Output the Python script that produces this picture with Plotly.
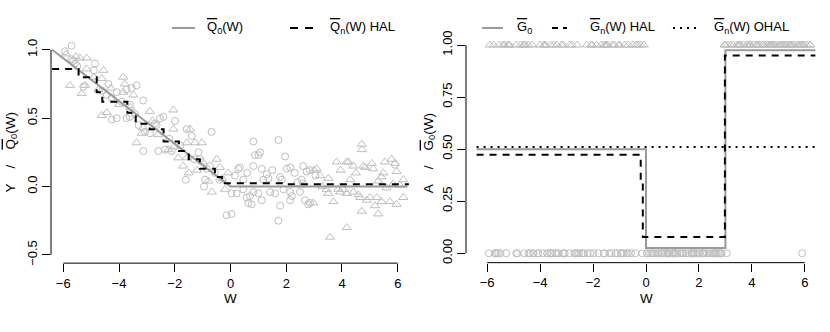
import plotly.graph_objects as go

# ---------------- data ----------------
# observations with A = 0 (circles)
w_a0 = [-5.94, -5.70, -5.70, -5.64, -5.58, -5.5, -4.86, -5.28, -4.38, -4.44, -4.26, -4.08,
        -3.73, -3.55, -3.37, -3.13, -4.26, -4.08, -3.61, -3.43, -3.61, -3.73, -2.41, -2.53,
        -1.99, -2.65, -2.71, -3.07, -2.89, -1.57, -0.68, -3.13, -2.59, -2.35, -2.11, -1.39,
        -1.15, -1.09, -0.85, -0.74, -0.91, -0.56, -0.14, -3.9, -1.8, -1.3, -0.4, -2.2, -3.3,
        -4.6, -4.9, -1.6, -0.95,
        0.16, 0.28, 0.34, 0.04, 0.22, 0.04, 0.82, 0.88, 1.06, 1.00, 1.72, 1.96, 0.82, 1.12,
        1.30, 1.36, 1.18, 1.78, 1.84, 2.02, 2.14, 0.46, 0.46, 0.82, 1.00, 1.12, 0.70, 0.58,
        0.64, 0.76, 1.42, 1.60, 1.78, 1.72, 2.14, 2.20, 2.49, 2.14, 2.61, 2.73, 2.85, 2.67,
        2.85, 2.79, 2.55, 2.61, 2.3, 1.5, 0.6, 2.4, 1.9, 3.05, 5.9]
y_a0 = [0.99, 1.03, 0.93, 0.92, 0.90, 0.88, 0.90, 0.73, 0.75, 0.67, 0.65, 0.69,
        0.71, 0.72, 0.74, 0.63, 0.49, 0.50, 0.60, 0.53, 0.51, 0.50, 0.51, 0.50,
        0.48, 0.45, 0.46, 0.40, 0.39, 0.42, 0.40, 0.26, 0.26, 0.27, 0.26, 0.37,
        0.25, 0.20, 0.13, 0.15, 0.05, 0.10, -0.21, 0.62, 0.30, 0.20, 0.05, 0.35, 0.45,
        0.70, 0.85, 0.05, 0.00,
        0.08, 0.13, 0.14, -0.05, -0.05, -0.20, 0.33, 0.23, 0.25, 0.23, 0.34, 0.22, 0.15, 0.13,
        0.09, 0.06, 0.05, 0.07, 0.05, 0.13, 0.14, 0.05, -0.02, -0.04, -0.05, -0.10, -0.07, -0.08,
        -0.12, -0.13, -0.04, -0.05, -0.14, -0.25, -0.04, -0.07, -0.04, -0.10, 0.15, 0.11, 0.12, -0.10,
        -0.12, -0.13, 0.05, 0.02, 0.10, 0.12, 0.10, 0.03, -0.02, 0.08, 0.16]

# observations with A = 1 (triangles)
w_a1 = [-5.40, -5.16, -5.16, -5.76, -5.34, -5.22, -4.56, -4.62, -4.74, -3.85, -3.79, -3.85,
        -3.49, -4.62, -4.44, -2.89, -2.05, -3.13, -3.19, -2.05, -1.45, -3.37, -2.23, -2.05,
        -1.57, -1.27, -1.03, -1.87, -1.57, -0.80, -0.38, -0.67, -0.20, -0.08, -5.9, -5.55,
        -4.3, -4.0, -2.6, -1.7, -1.2, -0.5, -2.8, -3.6, -4.9, -1.5, -1.0, -0.3,
        2.97, 3.0, 3.09, 3.21, 3.51, 3.81, 4.17, 4.41, 4.71, 4.71, 4.77, 5.07, 5.12, 5.54, 5.78,
        5.90, 5.96, 5.48, 5.42, 3.45, 3.51, 3.87, 3.93, 4.05, 3.69, 4.17, 4.41, 4.59, 4.65,
        4.89, 5.00, 5.25, 5.42, 5.72, 5.96, 5.18, 5.30, 4.71, 4.17, 3.57, 5.84, 5.60, 6.08,
        4.23, 4.83, 4.5, 4.3, 3.3, 6.2, 6.2, 3.95, 5.3]
y_a1 = [0.94, 0.94, 0.86, 0.74, 0.68, 0.74, 0.85, 0.79, 0.71, 0.80, 0.75, 0.69,
        0.67, 0.52, 0.54, 0.55, 0.56, 0.43, 0.39, 0.42, 0.42, 0.32, 0.27, 0.29,
        0.32, 0.32, 0.32, 0.21, 0.21, 0.04, 0.14, -0.04, -0.02, 0.10, 0.97, 0.95,
        0.72, 0.60, 0.38, 0.15, 0.12, 0.20, 0.48, 0.58, 0.80, 0.10, 0.18, 0.06,
        -0.12, 0.12, 0.13, 0.08, 0.06, 0.18, 0.18, 0.15, 0.31, 0.27, 0.15, 0.17, 0.13, 0.18, 0.20,
        0.17, 0.11, 0.10, 0.07, -0.02, -0.05, -0.02, -0.04, -0.02, -0.11, -0.05, -0.04, -0.06, -0.08,
        -0.10, -0.08, -0.08, -0.11, -0.11, -0.13, -0.14, -0.20, -0.18, -0.30, -0.37, 0.02, -0.01, 0.01,
        0.18, 0.14, 0.10, 0.05, 0.00, 0.05, -0.08, 0.12, 0.04]

# true regression Q0 (knots) and HAL estimate (step knots)
q0_w = [-6.4, 0.0, 6.35]
q0_y = [1.0, 0.0, 0.0]
qhal_w = [-6.4, -5.45, -4.8, -4.6, -3.7, -3.4, -2.9, -2.4, -1.85, -1.5, -1.1, -0.56, -0.3, 1.95, 6.4]
qhal_y = [0.86, 0.80, 0.69, 0.62, 0.54, 0.46, 0.42, 0.33, 0.26, 0.20, 0.13, 0.07, 0.024, 0.017, 0.017]

# propensity score G0, HAL and OHAL estimates (step knots)
g0_w = [-6.4, 0.0, 3.0, 6.4]
g0_y = [0.5, 0.025, 0.975, 0.975]
ghal_w = [-6.4, -0.2, -0.12, 2.98, 6.4]
ghal_y = [0.473, 0.33, 0.078, 0.95, 0.95]
gohal_w = [-6.4, 6.4]
gohal_y = [0.51, 0.51]

x_ticks = [-6, -4, -2, 0, 2, 4, 6]
yl_ticks = [-0.5, 0.0, 0.5, 1.0]
yr_ticks = [0.0, 0.25, 0.5, 0.75, 1.0]

# ---------------- layout geometry ----------------
W_PX, H_PX = 830, 332
FONT = "Liberation Sans, Arial, Helvetica, sans-serif"
PT_COL = "#BEBEBE"
LN_GRAY = "#9A9A9A"

L_X = (51, 410); L_Y = (36.5, 263.5)
R_X = (466, 826); R_Y = (31, 263)
L_XR = [-6.44, 6.44]; L_YR = [-0.56, 1.06]
R_XR = [-6.8, 6.8]; R_YR = [-0.045, 1.042]


def px(x):
    return x / W_PX


def py(y):
    return 1 - y / H_PX


def dom_x(p):
    return [px(p[0]), px(p[1])]


def dom_y(p):
    return [py(p[1]), py(p[0])]


def map_x(v, pxr, rng):
    return pxr[0] + (v - rng[0]) / (rng[1] - rng[0]) * (pxr[1] - pxr[0])


def map_y(v, pyr, rng):
    return pyr[1] - (v - rng[0]) / (rng[1] - rng[0]) * (pyr[1] - pyr[0])


fig = go.Figure()

# ---- left panel ----
fig.add_trace(go.Scatter(x=w_a0, y=y_a0, mode="markers", xaxis="x", yaxis="y",
                         marker=dict(symbol="circle-open", size=7, color=PT_COL, line=dict(width=1))))
fig.add_trace(go.Scatter(x=w_a1, y=y_a1, mode="markers", xaxis="x", yaxis="y",
                         marker=dict(symbol="triangle-up-open", size=8, color=PT_COL, line=dict(width=1))))
fig.add_trace(go.Scatter(x=q0_w, y=q0_y, mode="lines", xaxis="x", yaxis="y",
                         line=dict(color=LN_GRAY, width=2)))
fig.add_trace(go.Scatter(x=qhal_w, y=qhal_y, mode="lines", xaxis="x", yaxis="y",
                         line=dict(color="black", width=2, dash="7px,6px", shape="hv")))

# ---- right panel ----
fig.add_trace(go.Scatter(x=w_a0, y=[0] * len(w_a0), mode="markers", xaxis="x2", yaxis="y2",
                         marker=dict(symbol="circle-open", size=7, color=PT_COL, line=dict(width=1))))
fig.add_trace(go.Scatter(x=w_a1, y=[1] * len(w_a1), mode="markers", xaxis="x2", yaxis="y2",
                         marker=dict(symbol="triangle-up-open", size=8, color=PT_COL, line=dict(width=1))))
fig.add_trace(go.Scatter(x=gohal_w, y=gohal_y, mode="lines", xaxis="x2", yaxis="y2",
                         line=dict(color="black", width=2, dash="2px,5px")))
fig.add_trace(go.Scatter(x=g0_w, y=g0_y, mode="lines", xaxis="x2", yaxis="y2",
                         line=dict(color=LN_GRAY, width=2, shape="hv")))
fig.add_trace(go.Scatter(x=ghal_w, y=ghal_y, mode="lines", xaxis="x2", yaxis="y2",
                         line=dict(color="black", width=2, dash="7px,6px", shape="hv")))

axis_common = dict(showgrid=False, zeroline=False, showline=False, ticks="outside",
                   ticklen=8, tickwidth=1, tickcolor="black",
                   tickfont=dict(family=FONT, size=13, color="black"))

fig.update_layout(
    width=W_PX, height=H_PX,
    margin=dict(l=0, r=0, t=0, b=0),
    paper_bgcolor="white", plot_bgcolor="white",
    showlegend=False, hovermode=False,
    font=dict(family=FONT, size=13, color="black"),
    xaxis=dict(domain=dom_x(L_X), range=L_XR, tickvals=x_ticks, anchor="y", **axis_common),
    yaxis=dict(domain=dom_y(L_Y), range=L_YR, tickvals=yl_ticks, tickformat=".1f",
               tickangle=-90, anchor="x", **axis_common),
    xaxis2=dict(domain=dom_x(R_X), range=R_XR, tickvals=x_ticks, anchor="y2", **axis_common),
    yaxis2=dict(domain=dom_y(R_Y), range=R_YR, tickvals=yr_ticks, tickformat=".2f",
                tickangle=-90, anchor="x2", **axis_common),
)

shapes = []
# R-style axis lines spanning first..last tick
lx0 = map_x(x_ticks[0], L_X, L_XR); lx1 = map_x(x_ticks[-1], L_X, L_XR)
shapes.append(dict(type="line", xref="paper", yref="paper", x0=px(lx0), x1=px(lx1),
                   y0=py(L_Y[1]), y1=py(L_Y[1]), line=dict(color="black", width=1)))
ly0 = map_y(yl_ticks[0], L_Y, L_YR); ly1 = map_y(yl_ticks[-1], L_Y, L_YR)
shapes.append(dict(type="line", xref="paper", yref="paper", x0=px(L_X[0]), x1=px(L_X[0]),
                   y0=py(ly0), y1=py(ly1), line=dict(color="black", width=1)))
rx0 = map_x(x_ticks[0], R_X, R_XR); rx1 = map_x(x_ticks[-1], R_X, R_XR)
shapes.append(dict(type="line", xref="paper", yref="paper", x0=px(rx0), x1=px(rx1),
                   y0=py(R_Y[1]), y1=py(R_Y[1]), line=dict(color="black", width=1)))
ry0 = map_y(yr_ticks[0], R_Y, R_YR); ry1 = map_y(yr_ticks[-1], R_Y, R_YR)
shapes.append(dict(type="line", xref="paper", yref="paper", x0=px(R_X[0]), x1=px(R_X[0]),
                   y0=py(ry0), y1=py(ry1), line=dict(color="black", width=1)))

# legend samples
LEG_Y = 22.5


def leg_line(x0, x1, color, dash="solid"):
    shapes.append(dict(type="line", xref="paper", yref="paper", x0=px(x0), x1=px(x1),
                       y0=py(LEG_Y), y1=py(LEG_Y), line=dict(color=color, width=2, dash=dash)))


leg_line(172, 195, LN_GRAY)
leg_line(290, 313, "black", "8px,7px")
leg_line(482, 503, LN_GRAY)
leg_line(552, 567, "black", "6px,5px")
leg_line(673, 697, "black", "2px,5px")

fig.update_layout(shapes=shapes)

OV = '<span style="text-decoration:overline">{}</span>'
SP = "\u00a0" * 4
annotations = []


def txt(x, y, s, xanchor="left", angle=0, size=13):
    annotations.append(dict(xref="paper", yref="paper", x=px(x), y=py(y), text=s,
                            showarrow=False, xanchor=xanchor, yanchor="middle",
                            textangle=angle, font=dict(family=FONT, size=size, color="black")))


txt(205, LEG_Y, OV.format("Q") + "<sub>0</sub>(W)")
txt(328, LEG_Y, OV.format("Q") + "<sub>n</sub>(W) HAL")
txt(515, LEG_Y, OV.format("G") + "<sub>0</sub>")
txt(588, LEG_Y, OV.format("G") + "<sub>n</sub>(W) HAL")
txt(712, LEG_Y, OV.format("G") + "<sub>n</sub>(W) OHAL")

txt((L_X[0] + L_X[1]) / 2, 300, "W", xanchor="center", size=13.5)
txt((R_X[0] + R_X[1]) / 2, 300, "W", xanchor="center", size=13.5)
txt(11, 150, "Y" + SP + "/" + SP + OV.format("Q") + "<sub>0</sub>(W)",
    xanchor="center", angle=-90, size=13.5)
txt(429, 151, "A" + SP + "/" + SP + OV.format("G") + "<sub>0</sub>(W)",
    xanchor="center", angle=-90, size=13.5)

fig.update_layout(annotations=annotations)

# remove the default page margin so the figure sits at the window origin
fig.write_html("out.html",
               config={"displayModeBar": False, "staticPlot": True},
               post_script="document.body.style.margin='0';document.body.style.padding='0';")
